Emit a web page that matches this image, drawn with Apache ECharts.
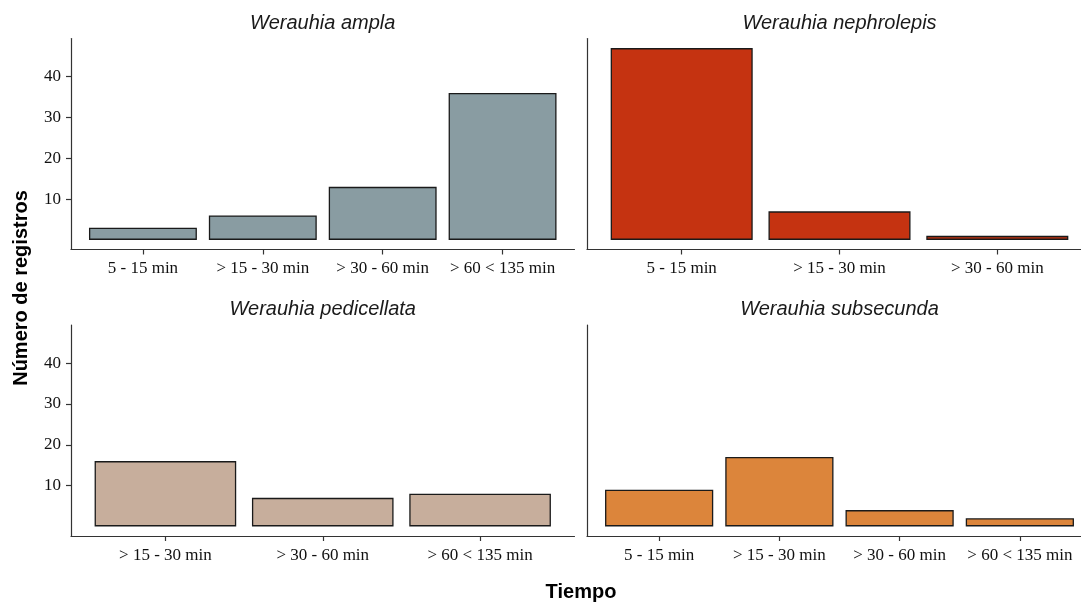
<!DOCTYPE html>
<html>
<head>
<meta charset="utf-8">
<script src="https://cdn.jsdelivr.net/npm/echarts@6/dist/echarts.min.js"></script>
<style>html,body{margin:0;padding:0;background:#fff;}#c{width:1081px;height:603px;}</style>
</head>
<body>
<div id="c"></div>
<script>
// ---- data ----
const titles = ["Werauhia ampla", "Werauhia nephrolepis", "Werauhia pedicellata", "Werauhia subsecunda"];
const catsAmpla = ["5 - 15 min", "> 15 - 30 min", "> 30 - 60 min", "> 60 < 135 min"];
const valsAmpla = [3, 6, 13, 36];
const catsNephrolepis = ["5 - 15 min", "> 15 - 30 min", "> 30 - 60 min"];
const valsNephrolepis = [47, 7, 1];
const catsPedicellata = ["> 15 - 30 min", "> 30 - 60 min", "> 60 < 135 min"];
const valsPedicellata = [16, 7, 8];
const catsSubsecunda = ["5 - 15 min", "> 15 - 30 min", "> 30 - 60 min", "> 60 < 135 min"];
const valsSubsecunda = [9, 17, 4, 2];
const yTicks = [10, 20, 30, 40];
const colors = ["#899ca2", "#c53311", "#c7ae9c", "#dc853b"];

const panels = [
  {cats: catsAmpla, vals: valsAmpla},
  {cats: catsNephrolepis, vals: valsNephrolepis},
  {cats: catsPedicellata, vals: valsPedicellata},
  {cats: catsSubsecunda, vals: valsSubsecunda}
];

// ---- layout ----
const gridPos = [
  {left: 71, top: 38.5, width: 503.5, height: 211},
  {left: 587, top: 38.5, width: 505, height: 211},
  {left: 71, top: 325, width: 503.5, height: 211},
  {left: 587, top: 325, width: 505, height: 211}
];
const titleTops = [13, 13, 299, 299];

const allVals = [].concat(valsAmpla, valsNephrolepis, valsPedicellata, valsSubsecunda);
const yMax = Math.max.apply(null, allVals);
const yExp = yMax * 0.05;

const axisLineStyle = {color: '#333', width: 1.2};
const grid = [], xAxis = [], yAxis = [], series = [], title = [];
panels.forEach((p, i) => {
  grid.push(Object.assign({containLabel: false, outerBoundsMode: 'none'}, gridPos[i]));
  const idx = p.cats.map((c, k) => k);
  xAxis.push({
    type: 'value', gridIndex: i, min: -0.6, max: p.cats.length - 0.4,
    splitLine: {show: false},
    axisLine: {show: true, onZero: false, lineStyle: axisLineStyle},
    axisTick: {show: true, length: 5, customValues: idx, lineStyle: axisLineStyle},
    axisLabel: {
      customValues: idx, margin: 11,
      fontFamily: 'Liberation Serif', fontSize: 17, color: '#111',
      formatter: v => p.cats[Math.round(v)]
    }
  });
  const showLab = (i % 2 === 0);
  yAxis.push({
    type: 'value', gridIndex: i, min: -yExp, max: yMax + yExp,
    splitLine: {show: false},
    axisLine: {show: true, onZero: false, lineStyle: axisLineStyle},
    axisTick: {show: showLab, length: 5, customValues: yTicks, lineStyle: axisLineStyle},
    axisLabel: {
      show: showLab, customValues: yTicks, margin: 10,
      fontFamily: 'Liberation Serif', fontSize: 17, color: '#111'
    }
  });
  series.push({
    type: 'bar', xAxisIndex: i, yAxisIndex: i,
    data: p.vals.map((v, k) => [k, v]),
    barWidth: '90%',
    itemStyle: {color: colors[i], borderColor: '#1a1a1a', borderWidth: 1.3},
    silent: true
  });
  title.push({
    text: titles[i],
    left: gridPos[i].left + (i % 2 === 0 ? 503.5 : 505) / 2,
    top: titleTops[i],
    textAlign: 'center',
    padding: 0,
    textStyle: {fontFamily: 'Liberation Sans', fontStyle: 'italic', fontWeight: 'normal', fontSize: 20, color: '#1a1a1a'}
  });
});

const chart = echarts.init(document.getElementById('c'), null, {renderer: 'canvas'});
chart.setOption({
  backgroundColor: '#ffffff',
  animation: false,
  title: title,
  grid: grid,
  xAxis: xAxis,
  yAxis: yAxis,
  series: series,
  graphic: [
    {type: 'text', x: 21, y: 288, rotation: Math.PI / 2,
     style: {text: 'Número de registros', fontFamily: 'Liberation Sans', fontWeight: 'bold', fontSize: 20,
             fill: '#000', align: 'center', verticalAlign: 'middle'}},
    {type: 'text', x: 581, y: 592,
     style: {text: 'Tiempo', fontFamily: 'Liberation Sans', fontWeight: 'bold', fontSize: 20,
             fill: '#000', align: 'center', verticalAlign: 'middle'}}
  ]
});
</script>
</body>
</html>
